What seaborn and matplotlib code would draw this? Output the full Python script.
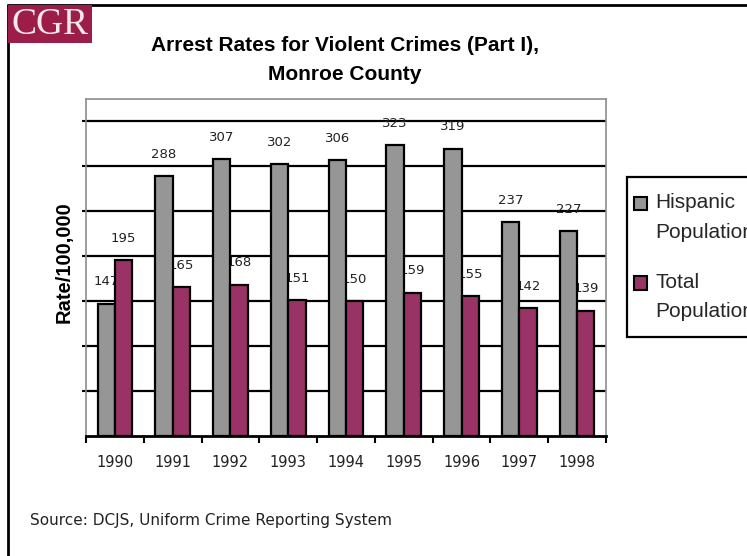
import matplotlib
matplotlib.use("Agg")
import matplotlib.pyplot as plt
from matplotlib.patches import Rectangle
from matplotlib.lines import Line2D
from matplotlib.legend_handler import HandlerPatch
import numpy as np
import pandas as pd
import seaborn as sns

# Arrest rates per 100,000 for violent (Part I) crimes, Monroe County
years = ["1990", "1991", "1992", "1993", "1994", "1995", "1996", "1997", "1998"]
hispanic = [147, 288, 307, 302, 306, 323, 319, 237, 227]
total = [195, 165, 168, 151, 150, 159, 155, 142, 139]
groups = ["Hispanic Population", "Total Population"]
legend_labels = ["Hispanic\nPopulation", "Total\nPopulation"]
gridlines = [50, 100, 150, 200, 250, 300, 350]

GRAY = "#969696"
MAROON = "#993366"

df = pd.DataFrame({
    "year": years * 2,
    "rate": hispanic + total,
    "group": [groups[0]] * len(years) + [groups[1]] * len(years),
})

sns.set_style("white")
plt.rcParams["font.family"] = ["DejaVu Sans"]

W, H = 747, 556
fig = plt.figure(figsize=(W / 100, H / 100), dpi=100)


def fx(px):
    return px / W


def fy(py):
    return 1 - py / H


ax = fig.add_axes([fx(86), fy(436), fx(606) - fx(86), fy(99) - fy(436)])

sns.barplot(
    data=df, x="year", y="rate", hue="group", order=years, hue_order=groups,
    palette=[GRAY, MAROON], width=0.6, edgecolor="black", linewidth=1.6,
    saturation=1, ax=ax, zorder=3,
)

# value labels sit above each bar, drawn beneath the bars themselves
for cont in ax.containers:
    labels = ax.bar_label(cont, padding=11, fontsize=9.5, color="#222222",
                          family="DejaVu Sans")
    for t in labels:
        t.set_zorder(2)

ax.set_xlim(-0.5, len(years) - 0.5)
ax.set_ylim(0, 374)
ax.set_xlabel("")
ax.set_ylabel("")

# category boundaries carry the tick marks, centres carry the year labels
ax.set_xticks(np.arange(-0.5, len(years), 1.0))
ax.set_xticklabels([])
ax.set_xticks(np.arange(len(years)), minor=True)
ax.set_xticklabels(years, minor=True, fontsize=10.5, color="#222222")
ax.tick_params(axis="x", which="major", direction="out", length=5, width=1.5,
               color="black", bottom=True)
ax.tick_params(axis="x", which="minor", length=0, pad=14)

ax.set_yticks(gridlines)
ax.set_yticklabels([])
ax.tick_params(axis="y", direction="out", length=3, width=1.5, color="black",
               left=True)
ax.yaxis.grid(True, color="black", linewidth=1.6)
ax.set_axisbelow(True)

for side in ("left", "top", "right"):
    ax.spines[side].set_color("#8c8c8c")
    ax.spines[side].set_linewidth(1.2)
ax.spines["bottom"].set_color("black")
ax.spines["bottom"].set_linewidth(2.0)


class RaisedSquare(HandlerPatch):
    """Square legend key aligned with the first line of a two-line label."""

    def create_artists(self, legend, orig_handle, xdescent, ydescent, width,
                       height, fontsize, trans):
        shift = fontsize * 0.68
        p = Rectangle((-xdescent, -ydescent + shift), width, height,
                      facecolor=orig_handle.get_facecolor(),
                      edgecolor="black", linewidth=1.5, transform=trans)
        return [p]


# legend frame drawn as its own box, running off the right edge of the page
fig.add_artist(Rectangle((fx(627), fy(337)), fx(800) - fx(627), fy(177) - fy(337),
                         facecolor="white", edgecolor="black", linewidth=1.6,
                         transform=fig.transFigure, zorder=-1))

handles, _ = ax.get_legend_handles_labels()
leg = ax.legend(
    handles, legend_labels, loc="upper left",
    bbox_to_anchor=(fx(634), fy(193)), bbox_transform=fig.transFigure,
    frameon=False, prop={"family": "Liberation Sans", "size": 15},
    handlelength=0.62, handleheight=0.62, handletextpad=0.42,
    labelspacing=1.5, borderpad=0, borderaxespad=0,
    handler_map={h: RaisedSquare() for h in handles},
)
for t in leg.get_texts():
    t.set_linespacing(1.7)

fig.text(fx(345), fy(60), "Arrest Rates for Violent Crimes (Part I),\nMonroe County",
         ha="center", va="center", multialignment="center", linespacing=1.72,
         fontsize=15, fontweight="bold", family="Liberation Sans", color="black")

fig.text(fx(64), fy(262), "Rate/100,000", rotation=90, ha="center", va="center",
         fontsize=14.5, fontweight="bold", family="Liberation Sans", color="black")

fig.text(fx(30), fy(520), "Source: DCJS, Uniform Crime Reporting System",
         ha="left", va="center", fontsize=11, color="#222222",
         family="DejaVu Sans")

# page border
fig.add_artist(Line2D([fx(8), fx(8)], [fy(5), fy(560)], color="black",
                      linewidth=2, transform=fig.transFigure))
fig.add_artist(Line2D([fx(8), fx(760)], [fy(5), fy(5)], color="black",
                      linewidth=2, transform=fig.transFigure))

# CGR badge
fig.add_artist(Rectangle((fx(8), fy(43)), fx(92) - fx(8), fy(5) - fy(43),
                         facecolor="#9b1d48", edgecolor="none",
                         transform=fig.transFigure, zorder=5))
fig.text(fx(50), fy(25), "CGR", ha="center", va="center", fontsize=27,
         family="Liberation Serif", color="#f4e8ec", zorder=6)

fig.savefig("out.png", dpi=100)
